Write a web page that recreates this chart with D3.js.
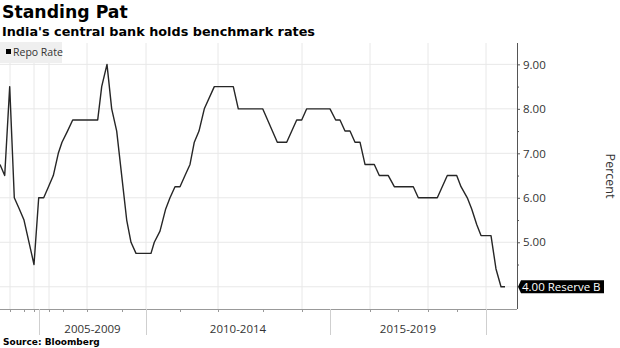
<!DOCTYPE html>
<html>
<head>
<meta charset="utf-8">
<script src="https://cdn.jsdelivr.net/npm/d3@7"></script>
<style>
  html, body { margin: 0; padding: 0; background: #fff; }
  svg { display: block; }
</style>
</head>
<body>
<svg id="chart" width="620" height="348"></svg>
<script>
// ---- Data (x is the observation index used by the source's gap-free time axis) ----
const repoObs = [0, 4.7, 9.7, 14.3, 19.3, 24, 34, 38.7, 43.7, 48.5, 53.3, 58.3, 62, 67.5, 72.7,
  97.7, 101.7, 107, 111.7, 116.7, 121.7, 126.7, 131, 136, 151, 154.3, 160, 165.7, 170, 175, 180,
  185, 190, 194.3, 199, 204.3, 214.3, 233.3, 238.3, 262.7, 277.3, 286.7, 296.7, 301.7, 306.7,
  330, 335.7, 340, 345, 350, 355, 360, 365, 374.3, 379.3, 388.3, 394.3, 413.3, 418.3, 437.3,
  447.3, 456.7, 461, 467.3, 471.7, 476.7, 481, 491, 496, 501, 505];
const repoRate = [6.75, 6.5, 8.5, 6.0, 5.75, 5.5, 4.5, 6.0, 6.0, 6.25, 6.5, 7.0, 7.25, 7.5, 7.75,
  7.75, 8.5, 9.0, 8.0, 7.5, 6.5, 5.5, 5.0, 4.75, 4.75, 5.0, 5.25, 5.75, 6.0, 6.25, 6.25,
  6.5, 6.75, 7.25, 7.5, 8.0, 8.5, 8.5, 8.0, 8.0, 7.25, 7.25, 7.75, 7.75, 8.0,
  8.0, 7.75, 7.75, 7.5, 7.5, 7.25, 7.25, 6.75, 6.75, 6.5, 6.5, 6.25, 6.25, 6.0, 6.0,
  6.5, 6.5, 6.25, 6.0, 5.75, 5.4, 5.15, 5.15, 4.4, 4.0, 4.0];

const yearStartObs = [10, 24, 34, 39, 49, 63, 87, 122, 146, 180, 218, 263, 302, 330, 370, 398, 428, 457, 486];
const yearLabels   = [2002, 2003, 2004, 2005, 2006, 2007, 2008, 2009, 2010, 2011, 2012, 2013, 2014, 2015, 2016, 2017, 2018, 2019, 2020];
const groupYears   = [2005, 2010, 2015, 2020];
const groupLabels  = ["2005-2009", "2010-2014", "2015-2019"];
const yTicks       = [5, 6, 7, 8, 9];
const yGridTicks   = [4, 5, 6, 7, 8, 9];
const yMinorTicks  = [4.5, 5.5, 6.5, 7.5, 8.5];
const seriesName   = "Repo Rate";
const lastLabel    = "Reserve B";

const title = "Standing Pat";
const subtitle = "India's central bank holds benchmark rates";
const source = "Source:  Bloomberg";

// ---- Layout ----
const plot = { left: 0, right: 517, top: 43, bottom: 309 };

const svg = d3.select("#chart");

const x = d3.scaleLinear().domain([0, 517]).range([plot.left, plot.right]);
const y = d3.scaleLinear().domain([3.5, 9.48]).range([plot.bottom, plot.top]);

const obsOfYear = yr => yearStartObs[yearLabels.indexOf(yr)];

// Titles
svg.append("text").attr("x", 2).attr("y", 18)
  .attr("font-family", "DejaVu Sans").attr("font-weight", "bold").attr("font-size", 17.3)
  .attr("fill", "#000").text(title);
svg.append("text").attr("x", 2).attr("y", 36)
  .attr("font-family", "DejaVu Sans").attr("font-weight", "bold").attr("font-size", 12.8)
  .attr("fill", "#000").text(subtitle);

// Gridlines
const grid = svg.append("g");
grid.selectAll("line.h").data(yGridTicks).join("line")
  .attr("x1", plot.left).attr("x2", plot.right)
  .attr("y1", d => y(d)).attr("y2", d => y(d))
  .attr("stroke", "#e8e8e8").attr("stroke-width", 1);
grid.selectAll("line.v").data(yearLabels.filter(d => d % 2 === 0)).join("line")
  .attr("x1", d => x(obsOfYear(d))).attr("x2", d => x(obsOfYear(d)))
  .attr("y1", plot.top).attr("y2", plot.bottom)
  .attr("stroke", "#e8e8e8").attr("stroke-width", 1);

// Legend
const leg = svg.append("g");
leg.append("rect").attr("x", 0).attr("y", 42).attr("width", 62).attr("height", 21).attr("fill", "#efefef");
leg.append("rect").attr("x", 6).attr("y", 49).attr("width", 5).attr("height", 5).attr("fill", "#000");
leg.append("text").attr("x", 13).attr("y", 56)
  .attr("font-family", "Open Sans").attr("font-size", 10.5).attr("fill", "#333").text(seriesName);

// Line
const line = d3.line().x((d, i) => x(repoObs[i])).y(d => y(d));
svg.append("path").datum(repoRate)
  .attr("d", line).attr("fill", "none")
  .attr("stroke", "#262626").attr("stroke-width", 1.4).attr("stroke-linejoin", "round");

// Bottom axis (minor year ticks)
const xAxisMinor = d3.axisBottom(x).tickValues(yearStartObs.filter((d, i) => !groupYears.includes(yearLabels[i])))
  .tickSize(3).tickFormat("");
const gx = svg.append("g").attr("transform", `translate(0,${plot.bottom})`).call(xAxisMinor);
gx.select(".domain").attr("stroke", "#999").attr("d", `M${plot.left},0.5H${plot.right}`);
gx.selectAll(".tick line").attr("stroke", "#999");

const xAxisMajor = d3.axisBottom(x).tickValues(groupYears.map(obsOfYear)).tickSize(26).tickFormat("");
const gx2 = svg.append("g").attr("transform", `translate(0,${plot.bottom})`).call(xAxisMajor);
gx2.select(".domain").remove();
gx2.selectAll(".tick line").attr("stroke", "#cfcfcf");

svg.append("g").selectAll("text").data(groupLabels).join("text")
  .attr("x", (d, i) => (x(obsOfYear(groupYears[i])) + x(obsOfYear(groupYears[i + 1]))) / 2)
  .attr("y", 333)
  .attr("text-anchor", "middle")
  .attr("font-family", "Open Sans").attr("font-size", 11.5).attr("fill", "#333")
  .text(d => d);

// Right axis
const yAxis = d3.axisRight(y).tickValues(yTicks).tickFormat(d3.format(".2f")).tickSize(3).tickPadding(3);
const gy = svg.append("g").attr("transform", `translate(${plot.right},0)`).call(yAxis);
gy.select(".domain").attr("stroke", "#555").attr("d", `M0.5,${plot.top}V${plot.bottom}`);
gy.selectAll(".tick line").attr("stroke", "#555");
gy.selectAll(".tick text").attr("font-family", "Open Sans").attr("font-size", 11.5).attr("fill", "#333");

const yAxisMinor = d3.axisRight(y).tickValues(yMinorTicks).tickSize(2).tickFormat("");
const gy2 = svg.append("g").attr("transform", `translate(${plot.right},0)`).call(yAxisMinor);
gy2.select(".domain").remove();
gy2.selectAll(".tick line").attr("stroke", "#555");

svg.append("text")
  .attr("transform", `translate(605.5,176) rotate(90)`)
  .attr("text-anchor", "middle")
  .attr("font-family", "Open Sans").attr("font-size", 12.5).attr("fill", "#333")
  .text("Percent");

// Last value tag
const lastVal = repoRate[repoRate.length - 1];
const ly = y(lastVal);
const tag = svg.append("g");
tag.append("path")
  .attr("d", `M${plot.right + 1},${ly} L${plot.right + 4},${ly - 6.5} H604 V${ly + 6.5} H${plot.right + 4} Z`)
  .attr("fill", "#000");
tag.append("text").attr("x", plot.right + 5).attr("y", ly + 4)
  .attr("font-family", "Open Sans").attr("font-size", 11.5).attr("fill", "#fff")
  .text(d3.format(".2f")(lastVal) + " " + lastLabel);

// Source
svg.append("text").attr("x", 3).attr("y", 345)
  .attr("font-family", "DejaVu Sans").attr("font-weight", "bold").attr("font-size", 9)
  .attr("fill", "#000").text(source);
</script>
</body>
</html>
